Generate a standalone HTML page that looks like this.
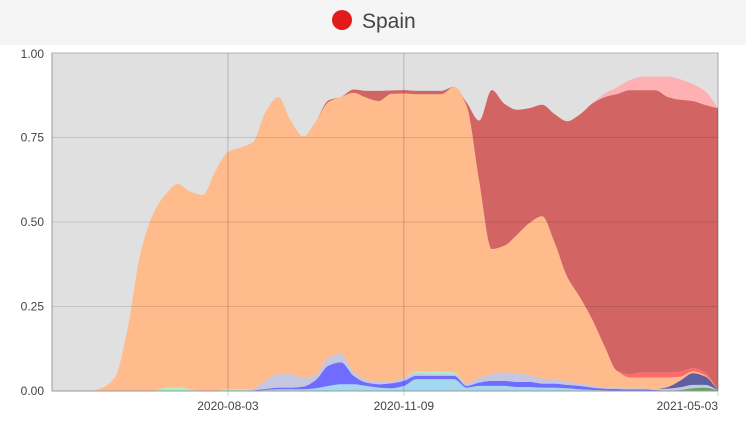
<!DOCTYPE html>
<html><head><meta charset="utf-8"><style>
body{margin:0;width:746px;height:422px;background:#fff;font-family:"Liberation Sans",sans-serif;overflow:hidden}
#hdr{position:absolute;left:0;top:0;width:746px;height:45px;background:#f5f5f5}
</style></head><body>
<div id="hdr"></div>
<svg id="c" width="746" height="422" style="position:absolute;left:0;top:0">
<g>
<circle cx="342" cy="20" r="10" fill="#e31a1c"></circle>
<text x="362" y="28" font-size="21" fill="#444">Spain</text>
</g>
<rect x="52" y="53" width="666" height="338" fill="#e0e0e0" stroke="#ccc"></rect>
<g id="areas"></g><g id="axes"></g>
</svg>
<script>
const startDate=new Date("2020-04-27");
const xTickLabels=["2020-08-03","2020-11-09","2021-05-03"];
const yTicks=[0,0.25,0.5,0.75,1];
const yTickLabels=["0.00","0.25","0.50","0.75","1.00"];
const seriesNames=["green","lightblue","blue","lavender","mint","slate","orange","salmon","darkred","pink"];
const seriesColors=["#5fa860","#a4d8f0","#6f6cff","#c5c6e0","#a8f0c8","#5d5fa0","#ffbb8b","#ff6a6a","#d36464","#ffb0b2"];
const green=[0,0,0,0,0,0,0,0,0,0,0,0,0,0,0,0,0,0,0,0,0,0,0,0,0,0,0,0,0,0,0,0,0,0,0,0,0,0,0,0,0,0,0,0,0,0,0,0,0,0,0.3,0.8,1,0.2];
const lightblue=[0,0,0,0,0,0,0,0,0,0,0,0,0,0,0,0,0,0.3,0.5,0.5,0.5,0.8,1.5,2,2,1.5,1,0.8,1.5,3.5,3.5,3.5,3.5,1,1.5,1.5,1.5,1.2,1.2,1,1,0.8,0.5,0.3,0.2,0.1,0,0,0,0,0,0,0,0];
const blue=[0,0,0,0,0,0,0,0,0,0,0,0,0,0,0,0,0.2,0.3,0.5,0.5,0.8,2.5,6,6.5,2.5,1,1,1.5,1.5,1,1,1,1,0.5,1,1.5,1.5,1.5,1.5,1.2,1.2,1,1,0.7,0.5,0.5,0.5,0.5,0.3,0.2,0,0,0,0];
const lavender=[0,0,0,0,0,0,0,0,0,0,0,0,0,0,0,0,0.5,2.5,4,4,2.5,1.5,2.5,2.5,1.2,0.8,0.8,0.6,1,0.8,0.5,0.5,0.5,0.8,1.5,2,2.5,2.5,2,1.5,1.2,1,0.8,0.6,0.3,0.3,0.3,0.3,0.3,0.5,0.8,1,0.8,0];
const mint=[0,0,0,0,0,0,0,0,0,1,1.2,0.5,0,0,0.7,0.5,0,0,0,0,0,0,0,0,0,0,0,0,0,0.5,0.8,0.8,0.5,0,0,0,0,0,0,0,0,0,0,0,0,0,0,0,0,0,0,0,0,0];
const slate=[0,0,0,0,0,0,0,0,0,0,0,0,0,0,0,0,0,0,0,0,0,0,0,0,0,0,0,0,0,0,0,0,0,0,0,0,0,0,0,0,0,0,0,0,0,0,0,0,0,0.5,2,3.5,2.5,0];
const orange=[0,0,0,0,1,4,18,40,52,57,60,58.5,58,65,70,71.5,73,79.5,82,75,71.5,75,75.5,76,82.5,83.5,83,85,84,82,82,82,84.5,82,58,37,37.5,41,45,48,40.5,31,25.5,19.5,12,5,3.2,3.2,3.4,2.8,1.1,0.5,0.3,0];
const salmon=[0,0,0,0,0,0,0,0,0,0,0,0,0,0,0,0,0,0,0,0,0,0,0,0,0,0,0,0,0,0,0,0,0,0,0,0,0,0,0,0,0,0,0,0,0,0,1,1.5,1.5,1.5,1.5,1,0.8,0];
const darkred=[0,0,0,0,0,0,0,0,0,0,0,0,0,0,0,0,0,0,0,0,0,0,0.5,0,1,2,3,1,1,1,1,1,0,1,18,47,42,37,34,33,38,46,54,64,74,82,84,83.5,83.5,81.5,80.5,79,79.2,83.5];
const pink=[0,0,0,0,0,0,0,0,0,0,0,0,0,0,0,0,0,0,0,0,0,0,0,0,0,0,0,0,0,0,0,0,0,0,0,0,0,0,0,0,0,0,0,0,1,2,3,4,4,6,6,5,4,0];
const series=[green,lightblue,blue,lavender,mint,slate,orange,salmon,darkred,pink];

const X0=52,X1=718,Y0=391,Y1=53;
const totalDays=371;
function xDay(d){return X0+d/totalDays*(X1-X0);}
function xWeek(w){return xDay(w*7);}
function y(v){return Y0-v*(Y0-Y1);}
const NS="http://www.w3.org/2000/svg";
function mono(pts){
  const n=pts.length;const dx=[],s=[],m=[];
  for(let i=0;i<n-1;i++){dx[i]=pts[i+1][0]-pts[i][0];s[i]=(pts[i+1][1]-pts[i][1])/dx[i];}
  m[0]=s[0];m[n-1]=s[n-2];
  for(let i=1;i<n-1;i++){m[i]=(s[i-1]*s[i]<=0)?0:(3*(dx[i-1]+dx[i]))/((2*dx[i]+dx[i-1])/s[i-1]+(dx[i]+2*dx[i-1])/s[i]);}
  let d="";
  for(let i=0;i<n-1;i++){const h=dx[i]/3;
    d+=" C"+(pts[i][0]+h)+","+(pts[i][1]+m[i]*h)+" "+(pts[i+1][0]-h)+","+(pts[i+1][1]-m[i+1]*h)+" "+pts[i+1][0]+","+pts[i+1][1];}
  return d;
}
const g=document.getElementById("areas");
const n=orange.length;let base=new Array(n).fill(0);
series.forEach((arr,k)=>{
  const top=base.map((b,i)=>b+arr[i]/100);
  const tp=top.map((v,i)=>[xWeek(i),y(v)]);
  const bp=base.map((v,i)=>[xWeek(i),y(v)]).reverse();
  const d="M"+tp[0][0]+","+tp[0][1]+mono(tp)+" L"+bp[0][0]+","+bp[0][1]+mono(bp)+"Z";
  const p=document.createElementNS(NS,"path");
  p.setAttribute("d",d);p.setAttribute("fill",seriesColors[k]);
  
  
  g.appendChild(p);base=top;
});
const ax=document.getElementById("axes");
yTicks.forEach((v,i)=>{
  const l=document.createElementNS(NS,"line");
  l.setAttribute("x1",X0);l.setAttribute("x2",X1);l.setAttribute("y1",y(v));l.setAttribute("y2",y(v));
  l.setAttribute("stroke","rgba(0,0,0,0.12)");
  
  
  ax.appendChild(l);
  const t=document.createElementNS(NS,"text");
  t.setAttribute("x",44);t.setAttribute("y",y(v)+4+(v===1?1:0));t.setAttribute("text-anchor","end");
  t.setAttribute("font-size","12");t.setAttribute("fill","#444");t.textContent=yTickLabels[i];
  
  
  ax.appendChild(t);
});
xTickLabels.forEach(s=>{
  const d=(new Date(s)-startDate)/86400000;const xx=xDay(d);
  const l=document.createElementNS(NS,"line");
  l.setAttribute("x1",xx);l.setAttribute("x2",xx);l.setAttribute("y1",Y1);l.setAttribute("y2",Y0+5);
  l.setAttribute("stroke","rgba(0,0,0,0.18)");
  
  
  ax.appendChild(l);
  const t=document.createElementNS(NS,"text");
  t.setAttribute("x",xx);t.setAttribute("y",410);t.setAttribute("text-anchor",xx>700?"end":"middle");
  t.setAttribute("font-size","12");t.setAttribute("fill","#444");t.textContent=s;
  
  
  ax.appendChild(t);
});
const xa=document.createElementNS(NS,"line");
xa.setAttribute("x1",X0);xa.setAttribute("x2",X1);xa.setAttribute("y1",Y0);xa.setAttribute("y2",Y0);xa.setAttribute("stroke","#999");


ax.appendChild(xa);
const ya=document.createElementNS(NS,"line");
ya.setAttribute("x1",X0);ya.setAttribute("x2",X0);ya.setAttribute("y1",Y1);ya.setAttribute("y2",Y0);ya.setAttribute("stroke","#999");


ax.appendChild(ya);
</script>
</body></html>
